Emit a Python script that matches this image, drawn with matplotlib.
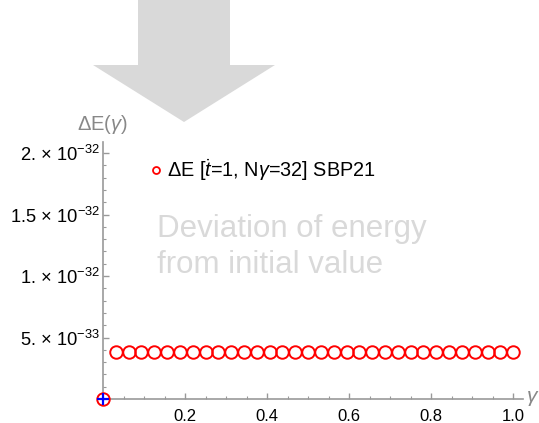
import matplotlib
matplotlib.use("Agg")
import matplotlib.pyplot as plt
from matplotlib.lines import Line2D
from matplotlib.patches import Polygon
from matplotlib.ticker import MultipleLocator, FixedLocator, FixedFormatter

plt.rcParams['font.family'] = ['Liberation Sans', 'DejaVu Sans']
plt.rcParams['mathtext.fontset'] = 'custom'
plt.rcParams['mathtext.rm'] = 'Liberation Sans'
plt.rcParams['mathtext.it'] = 'Liberation Sans:italic'
plt.rcParams['mathtext.bf'] = 'Liberation Sans:bold'

# ---- data ----
gamma = [0.0, 0.03125, 0.0625, 0.09375, 0.125, 0.15625, 0.1875, 0.21875,
         0.25, 0.28125, 0.3125, 0.34375, 0.375, 0.40625, 0.4375, 0.46875,
         0.5, 0.53125, 0.5625, 0.59375, 0.625, 0.65625, 0.6875, 0.71875,
         0.75, 0.78125, 0.8125, 0.84375, 0.875, 0.90625, 0.9375, 0.96875, 1.0]
delta_E = [0.0, 3.8e-33, 3.8e-33, 3.8e-33, 3.8e-33, 3.8e-33, 3.8e-33, 3.8e-33,
           3.8e-33, 3.8e-33, 3.8e-33, 3.8e-33, 3.8e-33, 3.8e-33, 3.8e-33, 3.8e-33,
           3.8e-33, 3.8e-33, 3.8e-33, 3.8e-33, 3.8e-33, 3.8e-33, 3.8e-33, 3.8e-33,
           3.8e-33, 3.8e-33, 3.8e-33, 3.8e-33, 3.8e-33, 3.8e-33, 3.8e-33, 3.8e-33, 3.8e-33]
origin_x = [0.0]
origin_y = [0.0]
xtick_values = [0.2, 0.4, 0.6, 0.8, 1.0]
xtick_labels = ["0.2", "0.4", "0.6", "0.8", "1.0"]
ytick_values = [5e-33, 1e-32, 1.5e-32, 2e-32]
ytick_labels = [r"5. × 10$^{-33}$", r"1. × 10$^{-32}$",
                r"1.5 × 10$^{-32}$", r"2. × 10$^{-32}$"]
legend_label = r"$\Delta$E [$\dot{t}$=1, N$\mathit{\gamma}$=32] SBP21"
note_lines = ["Deviation of energy", "from initial value"]

W, H = 539, 423
fig = plt.figure(figsize=(W / 100, H / 100), dpi=100)

def fx(px):
    return px / W

def fy(py):
    return 1 - py / H

ax = fig.add_axes([fx(103), fy(399), fx(523) - fx(103), fy(142) - fy(399)])
ax.set_xlim(0, 1.024)
ax.set_ylim(0, 2.09e-32)

axis_gray = "#999999"
for s in ["top", "right"]:
    ax.spines[s].set_visible(False)
for s in ["left", "bottom"]:
    ax.spines[s].set_color(axis_gray)
    ax.spines[s].set_linewidth(1.2)

ax.xaxis.set_major_locator(FixedLocator(xtick_values))
ax.xaxis.set_major_formatter(FixedFormatter(xtick_labels))
ax.xaxis.set_minor_locator(MultipleLocator(0.05))
ax.yaxis.set_major_locator(FixedLocator(ytick_values))
ax.yaxis.set_major_formatter(FixedFormatter(ytick_labels))
ax.yaxis.set_minor_locator(MultipleLocator(1e-33))
ax.tick_params(which="both", direction="in", color=axis_gray,
               labelcolor="black")
ax.tick_params(axis="x", labelsize=12, pad=7)
ax.tick_params(axis="y", labelsize=13.2, pad=2)
ax.tick_params(which="major", length=4, width=1)
ax.tick_params(which="minor", length=2.5, width=0.8)
for lab in ax.get_yticklabels():
    lab.set_verticalalignment("center_baseline")

ax.plot(gamma, delta_E, ls="none", marker="o", ms=9, mfc="none", mec="#ff0000",
        mew=1.4, clip_on=False, zorder=3)
ax.plot(origin_x, origin_y, ls="none", marker="+", ms=8, mec="#0000ff",
        mew=1.6, clip_on=False, zorder=4)

# axis labels
fig.text(fx(103), fy(130), r"$\Delta$E($\mathit{\gamma}$)", ha="center",
         va="baseline", fontsize=14.5, color="#888888")
fig.text(fx(526), fy(402), r"$\mathit{\gamma}$", ha="left", va="baseline",
         fontsize=15, color="#888888")

# legend
handle = Line2D([0], [0], ls="none", marker="o", ms=5, mfc="white",
                mec="#ff0000", mew=1.3)
ax.legend(handles=[handle], labels=[legend_label], loc="center left",
          bbox_to_anchor=(fx(152), fy(170)), bbox_transform=fig.transFigure,
          frameon=False, handlelength=0.45, handletextpad=0.3, borderpad=0,
          borderaxespad=0, fontsize=14.3)

# annotation text
note_color = "#d9d9d9"
fig.text(fx(157), fy(237), note_lines[0], ha="left", va="baseline",
         fontsize=22.5, color=note_color)
fig.text(fx(157), fy(273), note_lines[1], ha="left", va="baseline",
         fontsize=22.5, color=note_color)

# big arrow
arrow_px = [(138, 0), (230, 0), (230, 65), (275, 65), (184, 122),
            (93, 65), (138, 65)]
arrow = Polygon([(fx(a), fy(b)) for a, b in arrow_px], closed=True,
                transform=fig.transFigure, facecolor=note_color,
                edgecolor="none", zorder=0)
fig.patches.append(arrow)

fig.savefig("out.png", dpi=100)
